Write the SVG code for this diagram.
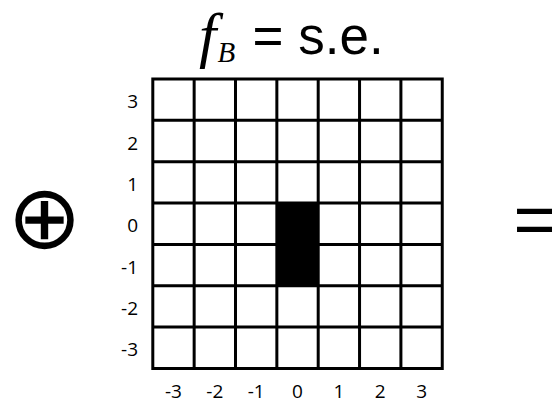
<svg xmlns="http://www.w3.org/2000/svg" width="559" height="403" viewBox="0 0 559 403">
<style>
.grid{fill:none;stroke:#000;stroke-width:3}
.lbl{font-family:"Open Sans","Liberation Sans",sans-serif;font-size:19px;fill:#000}
.l{text-anchor:end}
.b{text-anchor:middle}
.big{font-family:"Liberation Sans",Arial,sans-serif;fill:#000}
.it{font-family:"Liberation Serif","Times New Roman",serif;font-style:italic;fill:#000}
</style>
<rect width="559" height="403" fill="#fff"/>
<g id="title">
<text><tspan class="it" x="199" y="56" font-size="62">f</tspan><tspan class="it" x="217.4" y="62" font-size="29">B</tspan><tspan class="big" x="252.5" y="54" font-size="53">= s.e.</tspan></text>
</g>
<g id="oplus">
<text x="44.5" y="216.7" font-family="DejaVu Sans,sans-serif" font-size="89" text-anchor="middle" dominant-baseline="central">⊕</text>
</g>
<g id="equals">
<text class="big" x="513.6" y="243.7" font-size="72">=</text>
</g>
<g id="grid">
<rect x="276.85" y="203.05" width="41.35" height="82.7" fill="#000"/>
<path class="grid" d="M152.8 79H442.25V368.45H152.8Z M194.15 79V368.45 M235.5 79V368.45 M276.85 79V368.45 M318.2 79V368.45 M359.55 79V368.45 M400.9 79V368.45 M152.8 120.35H442.25 M152.8 161.7H442.25 M152.8 203.05H442.25 M152.8 244.4H442.25 M152.8 285.75H442.25 M152.8 327.1H442.25"/>
</g>
<g id="ylabels" class="lbl l">
<text x="138" y="108.2">3</text>
<text x="138" y="149.5">2</text>
<text x="138" y="190.9">1</text>
<text x="138" y="232.2">0</text>
<text x="138" y="273.6">-1</text>
<text x="138" y="314.9">-2</text>
<text x="138" y="356.3">-3</text>
</g>
<g id="xlabels" class="lbl b">
<text x="173.5" y="397.5">-3</text>
<text x="214.8" y="397.5">-2</text>
<text x="256.2" y="397.5">-1</text>
<text x="297.5" y="397.5">0</text>
<text x="338.9" y="397.5">1</text>
<text x="380.2" y="397.5">2</text>
<text x="421.6" y="397.5">3</text>
</g>
</svg>
